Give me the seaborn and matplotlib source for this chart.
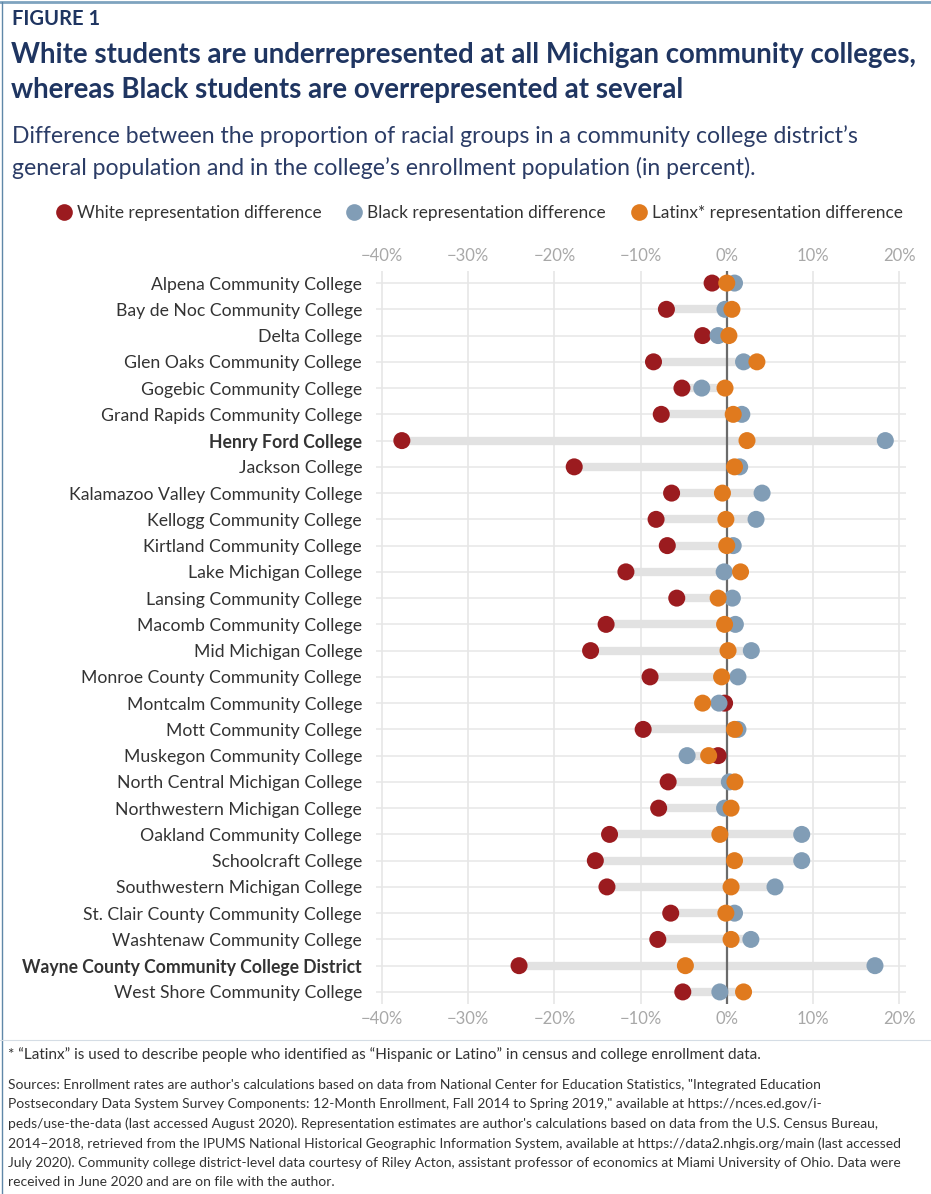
import matplotlib
matplotlib.use("Agg")
import matplotlib.pyplot as plt
import seaborn as sns
import pandas as pd
import numpy as np
from matplotlib.lines import Line2D

colleges = [
    "Alpena Community College", "Bay de Noc Community College", "Delta College",
    "Glen Oaks Community College", "Gogebic Community College",
    "Grand Rapids Community College", "Henry Ford College", "Jackson College",
    "Kalamazoo Valley Community College", "Kellogg Community College",
    "Kirtland Community College", "Lake Michigan College",
    "Lansing Community College", "Macomb Community College", "Mid Michigan College",
    "Monroe County Community College", "Montcalm Community College",
    "Mott Community College", "Muskegon Community College",
    "North Central Michigan College", "Northwestern Michigan College",
    "Oakland Community College", "Schoolcraft College",
    "Southwestern Michigan College", "St. Clair County Community College",
    "Washtenaw Community College", "Wayne County Community College District",
    "West Shore Community College",
]
white = [-1.7, -7.0, -2.8, -8.5, -5.2, -7.6, -37.7, -17.7, -6.4, -8.2, -6.9, -11.7,
         -5.8, -14.0, -15.8, -8.9, -0.25, -9.7, -1.0, -6.8, -7.9, -13.6, -15.25,
         -13.9, -6.5, -8.0, -24.1, -5.1]
black = [0.9, -0.2, -1.0, 1.95, -2.9, 1.75, 18.4, 1.5, 4.1, 3.4, 0.75, -0.3,
         0.65, 1.0, 2.85, 1.3, -0.9, 1.3, -4.6, 0.3, -0.25, 8.7, 8.7, 5.6,
         0.9, 2.8, 17.2, -0.8]
latinx = [0.0, 0.6, 0.25, 3.5, -0.2, 0.75, 2.35, 0.9, -0.5, -0.1, 0.0, 1.6,
          -1.0, -0.25, 0.15, -0.6, -2.8, 0.9, -2.1, 0.95, 0.5, -0.8, 0.9, 0.5,
          -0.1, 0.5, -4.8, 1.95]
bold_labels = ["Henry Ford College", "Wayne County Community College District"]
series_names = ["White representation difference", "Black representation difference",
                "Latinx* representation difference"]
series_colors = ["#9b1b1f", "#819db6", "#e07a1e"]
xticks = [-40, -30, -20, -10, 0, 10, 20]
xticklabels = ["\u221240%", "\u221230%", "\u221220%", "\u221210%", "0%", "10%", "20%"]

df = pd.DataFrame({"college": colleges, series_names[0]: white,
                   series_names[1]: black, series_names[2]: latinx})
long = df.melt(id_vars="college", var_name="series", value_name="diff")

sns.set_theme(style="white")
plt.rcParams["font.family"] = ["Lato", "DejaVu Sans"]

W, H = 931, 1194
fig = plt.figure(figsize=(W / 100, H / 100), dpi=100)
ax = fig.add_axes([376 / W, 1 - 1004 / H, (906 - 376) / W, (1004 - 271) / H])

ypos = np.arange(len(colleges))
for y in ypos:
    ax.axhline(y, color="#ececec", lw=1.4, zorder=0)
for xt in xticks:
    ax.axvline(xt, color="#e6e6e6", lw=1.2, zorder=0)

lo = df[series_names].min(axis=1)
hi = df[series_names].max(axis=1)
ax.hlines(ypos, lo, hi, color="#e2e2e2", lw=6.0, zorder=1)
ax.axvline(0, color="#6b6b6b", lw=1.6, zorder=2)

sns.scatterplot(data=long, x="diff", y="college", hue="series",
                hue_order=series_names, palette=series_colors, s=150,
                linewidth=0, ax=ax, zorder=3, legend=False)

ax.set_xlim(-40.7, 20.8)
ax.set_ylim(len(colleges) - 0.54, -0.46)
ax.set_xticks(xticks)
ax.set_xticklabels(xticklabels)
ax.set_yticks(ypos)
ax.set_yticklabels(colleges)
ax.set_xlabel("")
ax.set_ylabel("")
for s in ax.spines.values():
    s.set_visible(False)
ax.tick_params(axis="x", which="both", length=0, labelsize=12, labelcolor="#a8a8a8",
               top=False, labeltop=True, labelbottom=True, pad=5)
ax.tick_params(axis="y", length=0, labelsize=12.7, labelcolor="#333333", pad=10)
for lab in ax.get_yticklabels():
    if lab.get_text() in bold_labels:
        lab.set_fontweight("bold")

navy = "#1f3561"
def fy(px):
    return 1 - px / H

fig.text(12 / W, fy(25), "FIGURE 1", fontsize=14.5, fontweight="bold", color=navy, va="baseline")
fig.text(11 / W, fy(63), "White students are underrepresented at all Michigan community colleges,",
         fontsize=19.9, fontweight="bold", color=navy, va="baseline")
fig.text(11 / W, fy(98), "whereas Black students are overrepresented at several",
         fontsize=19.9, fontweight="bold", color=navy, va="baseline")
fig.text(12 / W, fy(143), "Difference between the proportion of racial groups in a community college district\u2019s",
         fontsize=16.6, color="#2b3c66", va="baseline")
fig.text(12 / W, fy(175), "general population and in the college\u2019s enrollment population (in percent).",
         fontsize=16.6, color="#2b3c66", va="baseline")

handles = [Line2D([0], [0], marker="o", color="none", markerfacecolor=c,
                  markeredgewidth=0, markersize=12) for c in series_colors]
fig.legend(handles, series_names, loc="center", bbox_to_anchor=(479 / W, fy(213)),
           ncol=3, frameon=False, fontsize=12.4, handletextpad=0.25,
           columnspacing=1.4, handlelength=1.0, labelcolor="#333333")

foot = "* \u201cLatinx\u201d is used to describe people who identified as \u201cHispanic or Latino\u201d in census and college enrollment data."
fig.text(8 / W, fy(1055), foot, fontsize=11, color="#333333", va="center")
sources = [
    "Sources: Enrollment rates are author's calculations based on data from National Center for Education Statistics, \"Integrated Education",
    "Postsecondary Data System Survey Components: 12-Month Enrollment, Fall 2014 to Spring 2019,\" available at https://nces.ed.gov/i-",
    "peds/use-the-data (last accessed August 2020). Representation estimates are author's calculations based on data from the U.S. Census Bureau,",
    "2014\u20132018, retrieved from the IPUMS National Historical Geographic Information System, available at https://data2.nhgis.org/main (last accessed",
    "July 2020). Community college district-level data courtesy of Riley Acton, assistant professor of economics at Miami University of Ohio. Data were",
    "received in June 2020 and are on file with the author.",
]
for i, line in enumerate(sources):
    fig.text(8 / W, fy(1085 + i * 19.5), line, fontsize=10, color="#333333", va="center")

fig.add_artist(Line2D([0, 1], [fy(1.5), fy(1.5)], transform=fig.transFigure,
                      color="#7fa3bf", lw=2))
fig.add_artist(Line2D([1.5 / W, 1.5 / W], [0, fy(1.5)], transform=fig.transFigure,
                      color="#5f87a8", lw=1))
fig.add_artist(Line2D([0, 1], [fy(1040), fy(1040)], transform=fig.transFigure,
                      color="#d5dde5", lw=0.8))

fig.savefig("out.png", dpi=100)
